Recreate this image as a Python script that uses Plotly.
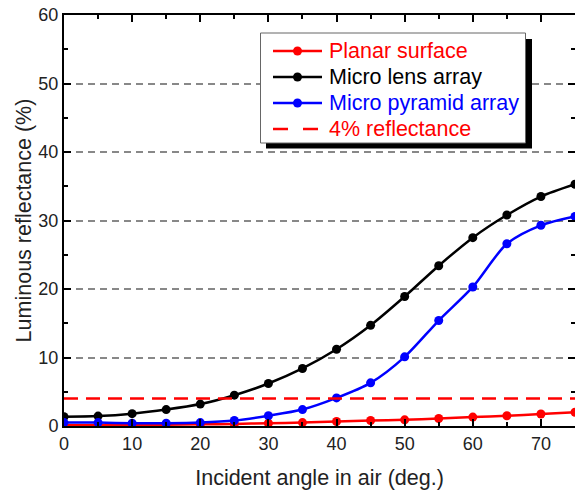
import plotly.graph_objects as go

angles = [0, 5, 10, 15, 20, 25, 30, 35, 40, 45, 50, 55, 60, 65, 70, 75]
planar = [0.1, 0.1, 0.15, 0.2, 0.25, 0.3, 0.4, 0.5, 0.65, 0.8, 0.9, 1.1, 1.3, 1.5, 1.75, 2.0]
lens = [1.35, 1.45, 1.8, 2.4, 3.2, 4.5, 6.2, 8.4, 11.2, 14.7, 18.9, 23.4, 27.5, 30.8, 33.5, 35.3]
pyramid = [0.5, 0.5, 0.4, 0.4, 0.5, 0.8, 1.5, 2.4, 4.1, 6.3, 10.1, 15.4, 20.3, 26.6, 29.3, 30.6]
ref_x = [0, 75]
ref_y = [4, 4]
names = ["Planar surface", "Micro lens array", "Micro pyramid array", "4% reflectance"]
colors = ["#ff0000", "#000000", "#0000ff", "#ff0000"]
x_ticks = [0, 10, 20, 30, 40, 50, 60, 70]

font = "Liberation Sans, Arial, sans-serif"

fig = go.Figure()
for name, ys, col in zip(names[:3], [planar, lens, pyramid], colors[:3]):
    fig.add_trace(go.Scatter(
        x=angles, y=ys, name=name, mode="lines+markers",
        line=dict(color=col, width=2.5, shape="spline", smoothing=0.8),
        marker=dict(color=col, size=9),
    ))
fig.add_trace(go.Scatter(
    x=ref_x, y=ref_y, name=names[3], mode="lines",
    line=dict(color=colors[3], width=2.5, dash="14px,8px"),
))

# ---- hand-drawn legend box (paper coords from pixel positions) ----
PL, PT, PW, PH = 64, 15, 511, 411  # plot area in window pixels


def px(vx):
    return (vx - PL) / PW


def py(vy):
    return (PT + PH - vy) / PH


shapes = [
    dict(type="rect", xref="paper", yref="paper",
         x0=px(266), x1=px(532), y0=py(148.5), y1=py(39),
         fillcolor="black", line=dict(width=0), layer="above"),
    dict(type="rect", xref="paper", yref="paper",
         x0=px(260.5), x1=px(525.5), y0=py(143), y1=py(33),
         fillcolor="white", line=dict(color="#666", width=1), layer="above"),
]
annotations = []
rows = [51, 77, 103, 129]
for i, (name, col) in enumerate(zip(names, colors)):
    yy = py(rows[i])
    if i < 3:
        shapes.append(dict(type="line", xref="paper", yref="paper",
                           x0=px(273), x1=px(322), y0=yy, y1=yy,
                           line=dict(color=col, width=2.5), layer="above"))
        shapes.append(dict(type="circle", xref="paper", yref="paper",
                           xsizemode="pixel", ysizemode="pixel",
                           xanchor=px(297.5), yanchor=yy,
                           x0=-4.5, x1=4.5, y0=-4.5, y1=4.5,
                           fillcolor=col, line=dict(width=0), layer="above"))
    else:
        for a, b in [(273, 288), (303, 318)]:
            shapes.append(dict(type="line", xref="paper", yref="paper",
                               x0=px(a), x1=px(b), y0=yy, y1=yy,
                               line=dict(color=col, width=2.5), layer="above"))
    annotations.append(dict(xref="paper", yref="paper", x=px(327), y=yy,
                            xanchor="left", yanchor="middle", showarrow=False,
                            text=name, font=dict(family=font, size=21.5, color=col)))

fig.update_layout(
    width=575, height=492,
    margin=dict(l=64, r=0, t=15, b=66),
    paper_bgcolor="white", plot_bgcolor="white",
    font=dict(family=font, size=18, color="#222"),
    showlegend=False,
    shapes=shapes, annotations=annotations,
)
fig.update_xaxes(
    range=[0, 75], tickvals=x_ticks,
    showline=True, linecolor="black", linewidth=2, mirror="allticks",
    ticks="inside", ticklen=7, tickwidth=2, tickcolor="black",
    minor=dict(ticks="inside", dtick=5, ticklen=4, tickwidth=1.5, tickcolor="black"),
    showgrid=False, zeroline=False, automargin=False,
    title=dict(text="Incident angle in air (deg.)", font=dict(size=21.5, color="#222"), standoff=17),
    tickfont=dict(size=18, color="#222"),
)
fig.update_yaxes(
    range=[0, 60], dtick=10,
    showline=True, linecolor="black", linewidth=2, mirror="allticks",
    ticks="inside", ticklen=7, tickwidth=2, tickcolor="black",
    minor=dict(ticks="inside", dtick=5, ticklen=4, tickwidth=1.5, tickcolor="black"),
    showgrid=True, gridcolor="#888", griddash="7px,5px", gridwidth=1.5,
    zeroline=False, automargin=False,
    title=dict(text="Luminous reflectance (%)", font=dict(size=21.5, color="#222"), standoff=1),
    tickfont=dict(size=18, color="#222"),
)

# remove the browser's default 8px page margin so the figure fills the window
fig.write_html("out.html", config={"displayModeBar": False},
               post_script="document.body.style.margin='0';")
